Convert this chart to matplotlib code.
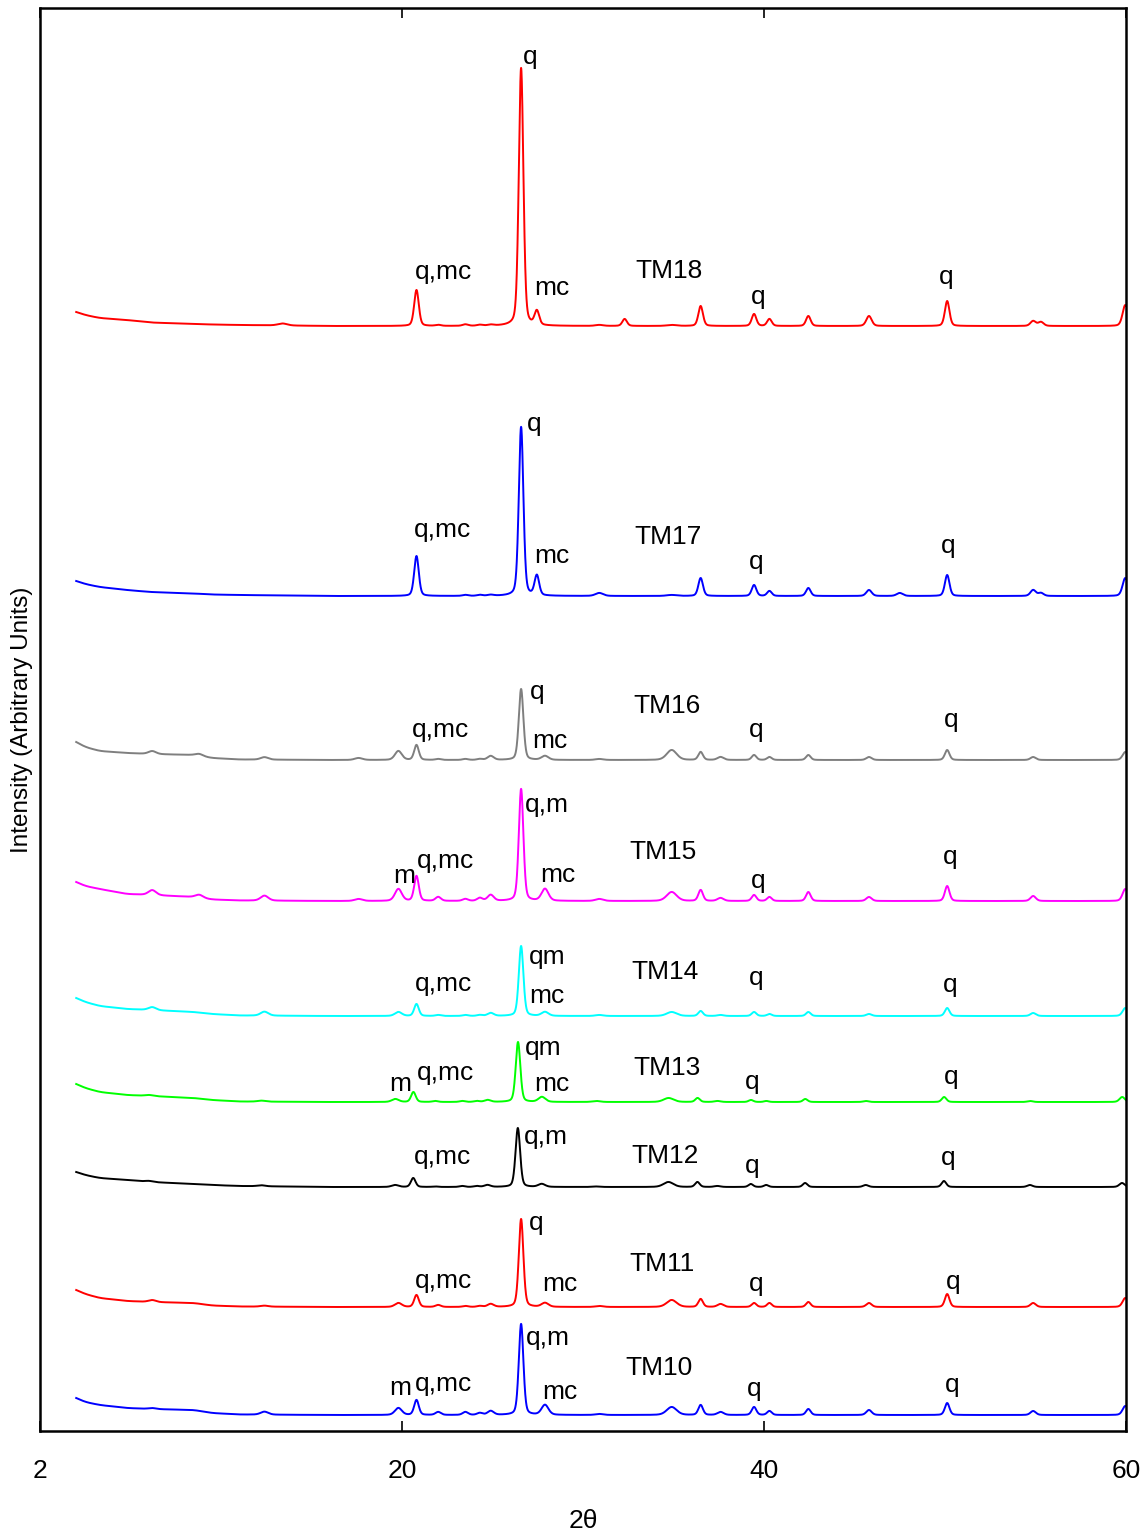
import numpy as np
import matplotlib
matplotlib.use("Agg")
import matplotlib.pyplot as plt

plt.rcParams['font.family'] = ['Liberation Sans', 'DejaVu Sans']

# ---------------- data ----------------
samples = ["TM18", "TM17", "TM16", "TM15", "TM14", "TM13", "TM12", "TM11", "TM10"]
colors = ["#ff0000", "#0000ff", "#7f7f7f", "#ff00ff", "#00ffff", "#00ff00", "#000000", "#ff0000", "#0000ff"]

# reflection positions (degrees 2-theta) and widths (FWHM, degrees)
peak_pos = [6.2, 8.8, 12.4, 13.4, 17.6, 19.8, 20.8, 22.0, 23.5, 24.3, 24.9, 26.58, 27.45,
            27.9, 30.9, 32.3, 34.9, 36.5, 37.6, 39.45, 40.3, 42.45, 45.8, 47.5, 50.12,
            54.87, 55.3, 59.96]
peak_fwhm = [0.5, 0.5, 0.5, 0.6, 0.5, 0.45, 0.3, 0.35, 0.35, 0.35, 0.4, 0.3, 0.3,
             0.45, 0.5, 0.3, 0.65, 0.3, 0.4, 0.3, 0.3, 0.3, 0.35, 0.4, 0.3,
             0.35, 0.35, 0.35]

# peak intensities (arbitrary units) per sample, aligned with peak_pos
tm18_int = [0, 0, 0, 2, 0, 0, 36, 1, 1.5, 1, 1, 258, 14, 0, 1, 7, 1, 20, 0, 12, 7, 10, 10, 0, 25, 5, 4, 21]
tm17_int = [0, 0, 0, 0, 0, 0, 40, 0, 1, 1, 1, 169, 20, 0, 3, 0, 1, 18, 0, 11, 5, 8, 6, 3, 21, 6, 3, 18]
tm16_int = [3, 2, 2.5, 0, 2, 9, 15, 1, 1, 1, 4, 71, 0, 4, 1, 0, 10, 8, 3, 5, 3, 5, 3, 0, 10, 3, 0, 8]
tm15_int = [5, 3, 5, 0, 2, 12, 25, 4, 2, 3, 6, 112, 0, 12, 2, 0, 9, 11, 3, 6, 4, 9, 4, 0, 15, 5, 0, 12]
tm14_int = [3, 0, 4, 0, 0, 4, 12, 1, 1, 1, 3, 70, 0, 4, 1, 0, 4, 5, 1, 4, 2, 4, 2, 0, 8, 3, 0, 8]
tm13_int = [1, 0, 1, 0, 0, 3, 10, 1, 1, 1, 2, 60, 0, 5, 1, 0, 4, 4, 1, 2, 1, 3, 1, 0, 5, 1, 0, 5]
tm12_int = [1, 0, 1, 0, 0, 2, 9, 0.5, 1, 1, 2, 59, 0, 3, 0.5, 0, 5, 5, 1, 3, 2, 4, 2, 0, 6, 2, 0, 4]
tm11_int = [2, 0, 1, 0, 0, 4, 12, 2, 1, 1, 3, 88, 0, 4, 1, 0, 7, 8, 3, 4, 4, 5, 4, 0, 13, 4, 0, 9]
tm10_int = [1, 0, 3, 0, 0, 7, 15, 3, 3, 2, 4, 91, 0, 10, 1, 0, 8, 10, 3, 8, 4, 6, 5, 0, 12, 4, 0, 9]
intensities = [tm18_int, tm17_int, tm16_int, tm15_int, tm14_int, tm13_int, tm12_int, tm11_int, tm10_int]

# sample zero shift (degrees)
zero_shift = [0, 0, 0, 0, 0, -0.17, -0.18, 0, 0]

# low-angle background read at these angles (arbitrary units above flat baseline)
bg_angles = [2.0, 2.5, 3.3, 4.8, 6.1, 8.5, 9.5, 11.0, 16.0, 60.0]
bg_tm18 = [14, 11, 8, 6, 3.5, 2, 1.5, 1, 0, 0]
bg_tm17 = [15, 12, 9, 6, 4, 2.5, 1.5, 1, 0, 0]
bg_tm16 = [18, 13, 9, 7, 6, 5, 2, 0.5, 0, 0]
bg_tm15 = [19, 15, 12, 7, 6, 4, 1.5, 0.5, 0, 0]
bg_tm14 = [18, 14, 10, 7, 6, 4, 2, 0.5, 0, 0]
bg_tm13 = [18, 14, 10, 7, 6, 4, 2, 0.5, 0, 0]
bg_tm12 = [15, 12, 9, 7, 5, 3, 2, 1, 0, 0]
bg_tm11 = [17, 13, 9, 6, 5, 4, 1.5, 0.5, 0, 0]
bg_tm10 = [17, 13, 10, 7, 6, 5, 2, 0.5, 0, 0]
backgrounds = [bg_tm18, bg_tm17, bg_tm16, bg_tm15, bg_tm14, bg_tm13, bg_tm12, bg_tm11, bg_tm10]

x_ticks = [0, 20, 40, 60]
x_ticklabels = ["2", "20", "40", "60"]

# ---------------- layout ----------------
offsets = [1105, 835, 671, 530, 415, 329, 244, 124, 16]

annotations = [
    # TM18
    ("q", 27.07, 1374), ("q,mc", 22.27, 1159), ("mc", 28.29, 1143), ("TM18", 34.75, 1160),
    ("q", 39.67, 1134), ("q", 50.06, 1154),
    # TM17
    ("q", 27.29, 1007), ("q,mc", 22.21, 901), ("mc", 28.29, 875), ("TM17", 34.70, 894),
    ("q", 39.56, 869), ("q", 50.17, 885),
    # TM16
    ("q", 27.46, 739), ("q,mc", 22.15, 701), ("mc", 28.18, 690), ("TM16", 34.64, 725),
    ("q", 39.56, 701), ("q", 50.33, 711),
    # TM15
    ("q,m", 28.01, 626), ("m", 20.11, 555), ("q,mc", 22.43, 570), ("mc", 28.62, 556),
    ("TM15", 34.42, 579), ("q", 39.67, 550), ("q", 50.28, 574),
    # TM14
    ("qm", 28.01, 474), ("q,mc", 22.27, 447), ("mc", 28.01, 435), ("TM14", 34.53, 459),
    ("q", 39.56, 453), ("q", 50.28, 446),
    # TM13
    ("qm", 27.79, 383), ("m", 19.89, 347), ("q,mc", 22.38, 358), ("mc", 28.29, 347),
    ("TM13", 34.64, 363), ("q", 39.34, 349), ("q", 50.33, 354),
    # TM12
    ("q,m", 27.96, 294), ("q,mc", 22.21, 274), ("TM12", 34.53, 275),
    ("q", 39.34, 265), ("q", 50.17, 273),
    # TM11
    ("q", 27.40, 208), ("q,mc", 22.27, 150), ("mc", 28.73, 147), ("TM11", 34.36, 167),
    ("q", 39.56, 147), ("q", 50.44, 149),
    # TM10
    ("q,m", 28.07, 93), ("m", 19.89, 43), ("q,mc", 22.27, 47), ("mc", 28.73, 39),
    ("TM10", 34.20, 63), ("q", 39.45, 42), ("q", 50.39, 46),
]


def pseudo_voigt(x, c, h, w, eta=0.3):
    g = np.exp(-4 * np.log(2) * ((x - c) / w) ** 2)
    l = 1.0 / (1.0 + 4 * ((x - c) / w) ** 2)
    return h * (eta * l + (1 - eta) * g)


def smooth_bg(x, angles, vals, win=61):
    b = np.interp(x, angles, vals).astype(float)
    pad = win // 2
    bp = np.concatenate([np.full(pad, b[0] + (b[0] - b[1]) * np.arange(pad, 0, -1)), b, np.full(pad, b[-1])])
    k = np.ones(win) / win
    return np.convolve(bp, k, mode='valid')


fig = plt.figure(figsize=(11.46, 15.34), dpi=100)
ax = fig.add_axes([40 / 1146, 103 / 1534, 1086 / 1146, 1423 / 1534])

x = np.arange(2.0, 60.0001, 0.01)
for name, col, ints, sh, bg, off in zip(samples, colors, intensities, zero_shift, backgrounds, offsets):
    y = smooth_bg(x, bg_angles, bg)
    for p, w, h in zip(peak_pos, peak_fwhm, ints):
        if h:
            y += pseudo_voigt(x, p + sh, h, w)
    ax.plot(x, y + off, color=col, lw=1.4, solid_joinstyle='round')

for txt, xx, yy in annotations:
    ax.text(xx, yy, txt, fontsize=19, ha='center', va='center', color='black')

ax.set_xlim(0, 60)
ax.set_ylim(0, 1423)
ax.set_xticks(x_ticks)
ax.set_xticklabels(x_ticklabels, fontsize=19)
ax.set_yticks([])
ax.tick_params(axis='x', direction='in', length=7, width=1.2, top=True, bottom=True, pad=20)
for s in ax.spines.values():
    s.set_linewidth(1.8)

fig.text(583 / 1146, 1 - 1521 / 1534, "2θ", fontsize=19, ha='center', va='center')
fig.text(22 / 1146, 1 - 720 / 1534, "Intensity (Arbitrary Units)", fontsize=17.5,
         rotation=90, ha='center', va='center')

fig.savefig("out.png", dpi=100)
